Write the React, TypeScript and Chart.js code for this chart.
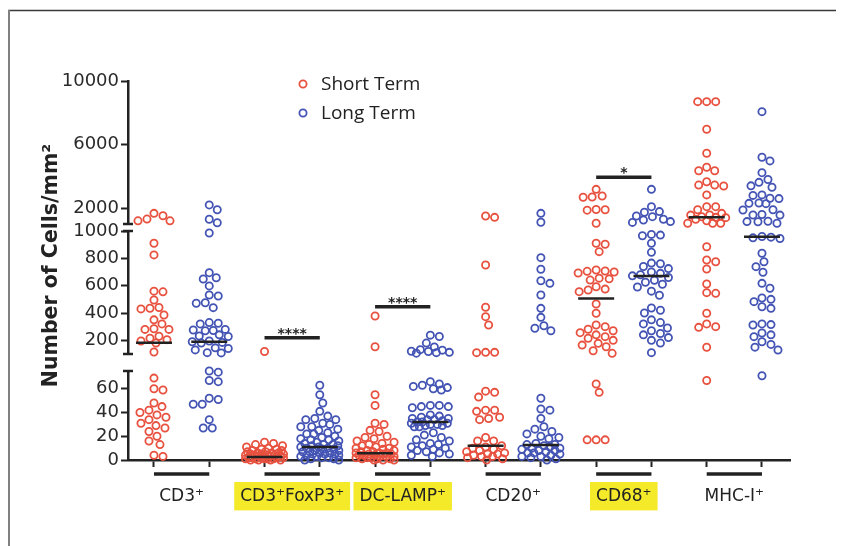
import React, { useEffect, useRef } from 'react';
import { Chart, registerables } from 'chart.js';

Chart.register(...registerables);

// ---- data ----
const groupLabels = ['CD3⁺', 'CD3⁺FoxP3⁺', 'DC-LAMP⁺', 'CD20⁺', 'CD68⁺', 'MHC-I⁺'];
const highlightedGroups = [false, true, true, false, true, false];
const seriesNames = ['Short Term', 'Long Term'];

const shortCD3 = [1670, 1520, 1310, 1200, 1200, 910, 825, 560, 555, 495, 440, 435, 430, 385, 350, 320, 285, 280, 280, 230, 215, 205, 195, 180, 115, 69, 60, 59, 48, 45, 42, 40, 38, 36, 34, 31, 29, 27, 24, 20, 16, 13, 4, 3];
const longCD3 = [2200, 1900, 1300, 1080, 985, 695, 658, 649, 598, 532, 524, 475, 471, 439, 330, 325, 320, 280, 276, 272, 270, 240, 232, 228, 195, 190, 185, 180, 145, 140, 130, 110, 108, 75, 74, 67, 66, 52, 51, 47, 47, 34, 27, 27];
const shortFoxP3 = [118, 15, 14, 13, 12, 11, 10, 9, 9, 8, 8, 7, 7, 6, 6, 6, 5, 5, 5, 4, 4, 4, 4, 3, 3, 3, 3, 2, 2, 2, 2, 2, 1, 1, 1, 1, 1, 0, 0, 0, 0];
const longFoxP3 = [63, 55, 48, 41, 37, 35, 34, 34, 31, 30, 28, 28, 26, 25, 23, 22, 22, 20, 19, 18, 17, 17, 16, 15, 14, 13, 13, 12, 12, 11, 11, 10, 10, 9, 9, 8, 8, 7, 7, 6, 6, 5, 5, 5, 4, 4, 3, 3, 2, 2, 1, 1, 0, 0];
const shortDCLAMP = [378, 153, 55, 46, 31, 30, 25, 24, 20, 19, 18, 16, 15, 14, 13, 12, 11, 10, 10, 9, 8, 8, 7, 7, 6, 6, 6, 5, 5, 5, 4, 4, 4, 3, 3, 3, 2, 2, 2, 1, 1, 1, 0, 0, 0];
const longDCLAMP = [238, 228, 180, 152, 132, 128, 120, 118, 112, 110, 106, 66, 64, 63, 62, 61, 60, 59, 46, 46, 45, 45, 44, 38, 37, 36, 35, 35, 34, 34, 33, 32, 32, 31, 31, 30, 30, 29, 29, 28, 28, 23, 21, 19, 17, 16, 14, 13, 12, 11, 10, 9, 8, 7, 6, 5, 4, 3];
const shortCD20 = [1500, 1420, 751, 442, 373, 312, 112, 112, 110, 58, 57, 53, 42, 42, 41, 36, 35, 34, 19, 16, 16, 12, 11, 10, 9, 8, 7, 6, 5, 5, 4, 3, 3, 2, 1, 0];
const longCD20 = [1670, 1110, 805, 720, 636, 617, 532, 434, 368, 307, 288, 270, 52, 43, 42, 35, 28, 26, 24, 22, 20, 19, 18, 14, 13, 13, 12, 11, 10, 10, 9, 8, 8, 7, 6, 6, 5, 4, 3, 3, 2, 1, 0];
const shortCD68 = [3180, 2760, 2700, 2680, 1910, 1900, 1870, 1050, 910, 903, 849, 715, 707, 705, 700, 693, 655, 650, 641, 592, 575, 568, 556, 466, 398, 312, 300, 281, 270, 256, 240, 227, 215, 200, 178, 165, 153, 124, 105, 64, 57, 17, 17, 17];
const longCD68 = [3180, 2090, 1780, 1740, 1500, 1460, 1300, 1250, 1150, 1100, 975, 970, 965, 910, 844, 765, 760, 740, 725, 700, 690, 680, 672, 660, 640, 625, 610, 590, 560, 530, 437, 420, 400, 350, 330, 320, 290, 270, 250, 240, 220, 200, 180, 110];
const shortMHC = [8700, 8700, 8700, 6960, 5450, 4570, 4350, 4350, 3660, 3450, 3450, 3390, 2830, 2090, 2090, 1900, 1670, 1570, 1560, 1460, 1420, 1400, 1300, 1200, 1050, 1040, 1040, 885, 788, 775, 722, 612, 549, 544, 398, 320, 300, 295, 149, 67];
const longMHC = [8070, 5200, 4970, 4230, 3800, 3620, 3400, 3310, 2830, 2800, 2620, 2600, 2320, 2300, 2280, 1900, 1880, 1600, 1570, 1560, 1170, 1150, 1140, 1050, 960, 955, 950, 945, 837, 775, 739, 698, 617, 581, 510, 500, 483, 446, 434, 320, 315, 312, 254, 240, 227, 190, 170, 150, 129, 71];

const shortSeries = [shortCD3, shortFoxP3, shortDCLAMP, shortCD20, shortCD68, shortMHC];
const longSeries = [longCD3, longFoxP3, longDCLAMP, longCD20, longCD68, longMHC];

const medianShort = [183, 2.5, 5.6, 12, 507, 1420];
const medianLong = [190, 11, 32, 12.6, 671, 958];

// significance brackets: group index, level, stars
const sigGroups = [1, 2, 4];
const sigLevels = [219, 446, 3950];
const sigStars = ['****', '****', '*'];

const yTopTicks = [10000, 6000, 2000];
const yMidTicks = [1000, 800, 600, 400, 200];
const yBotTicks = [60, 40, 20, 0];

// ---- styling ----
const COLORS = ['#e8513f', '#4454b4'];
const INK = '#222222';
const SEGMENTS = ['yTop', 'yMid', 'yBot'];
const AXIS_FONT = 'DejaVu Sans';

const segmentOf = (v: number) => (v >= 1000 ? 'yTop' : v >= 90 ? 'yMid' : 'yBot');

// beeswarm: place each point as close to the column centre as possible without overlap
function swarm(ys: number[], spacing: number, maxHalf: number): number[] {
  const order = ys.map((_, i) => i).sort((a, b) => ys[a] - ys[b]);
  const placed: { x: number; y: number }[] = [];
  const out = new Array(ys.length).fill(0);
  for (const i of order) {
    const y = ys[i];
    let best = 0;
    let bestScore = -Infinity;
    for (let step = 0; ; step++) {
      const dx = step === 0 ? 0 : (step % 2 ? 1 : -1) * Math.ceil(step / 2);
      if (Math.abs(dx) > maxHalf) break;
      let minD = Infinity;
      for (const p of placed) {
        const d = Math.hypot(p.x - dx, p.y - y);
        if (d < minD) minD = d;
      }
      if (minD >= spacing) {
        best = dx;
        break;
      }
      if (minD > bestScore + 0.01) {
        bestScore = minD;
        best = dx;
      }
    }
    placed.push({ x: best, y });
    out[i] = best;
  }
  return out;
}

function buildDatasets(offsets: number[][]) {
  const ds: any[] = [];
  [shortSeries, longSeries].forEach((series, s) => {
    SEGMENTS.forEach((seg) => {
      const data: { x: number; y: number }[] = [];
      series.forEach((vals, g) => {
        const col = g * 2 + s;
        vals.forEach((v, i) => {
          if (segmentOf(v) === seg) data.push({ x: col + ((offsets[col] && offsets[col][i]) || 0), y: v });
        });
      });
      ds.push({
        label: seriesNames[s],
        data,
        yAxisID: seg,
        pointStyle: 'circle',
        pointRadius: 3.6,
        pointHoverRadius: 3.6,
        pointBorderWidth: 1.8,
        pointBorderColor: COLORS[s],
        pointBackgroundColor: 'rgba(0,0,0,0)',
        borderColor: COLORS[s],
        clip: false,
        order: 2,
      });
    });
  });
  SEGMENTS.forEach((seg) => {
    const data: { x: number; y: number }[] = [];
    [medianShort, medianLong].forEach((arr, s) =>
      arr.forEach((m, g) => {
        if (segmentOf(m) === seg) data.push({ x: g * 2 + s, y: m });
      })
    );
    if (data.length)
      ds.push({
        label: 'median',
        data,
        yAxisID: seg,
        pointStyle: 'line',
        pointRadius: 18,
        pointHoverRadius: 18,
        pointBorderWidth: 2.5,
        pointBorderColor: INK,
        borderColor: INK,
        clip: false,
        order: 0,
      });
  });
  sigGroups.forEach((g, k) =>
    ds.push({
      label: 'significance',
      data: [
        { x: g * 2, y: sigLevels[k] },
        { x: g * 2 + 1, y: sigLevels[k] },
      ],
      yAxisID: segmentOf(sigLevels[k]),
      showLine: true,
      pointRadius: 0,
      borderColor: INK,
      borderWidth: 3.5,
      clip: false,
      order: 0,
    })
  );
  return ds;
}

const yScale = (weight: number, stackWeight: number, min: number, max: number, ticks: number[]) => ({
  type: 'linear',
  position: 'left',
  stack: 'cells',
  stackWeight,
  weight,
  min,
  max,
  afterBuildTicks: (s: any) => {
    s.ticks = ticks.map((value) => ({ value }));
  },
  afterFit: (s: any) => {
    s.width = 120;
  },
  grid: { drawOnChartArea: false, drawTicks: true, tickLength: 7, tickWidth: 2, tickColor: INK },
  border: { display: true, color: INK, width: 2.5 },
  ticks: {
    padding: 2,
    autoSkip: false,
    color: '#2a2a2a',
    font: { family: AXIS_FONT, size: 18 },
    callback: (v: any) => String(v),
  },
});

const gapScale = (weight: number, stackWeight: number) => ({
  type: 'linear',
  position: 'left',
  stack: 'cells',
  stackWeight,
  weight,
  min: 0,
  max: 1,
  display: false,
});

const decorations = {
  id: 'decorations',
  beforeDraw(chart: any) {
    const { ctx } = chart;
    ctx.save();
    ctx.fillStyle = '#ffffff';
    ctx.fillRect(0, 0, chart.width, chart.height);
    // frame
    ctx.strokeStyle = '#3a3a3a';
    ctx.lineWidth = 1.5;
    ctx.beginPath();
    ctx.moveTo(8, 10.5);
    ctx.lineTo(836, 10.5);
    ctx.stroke();
    ctx.strokeStyle = '#808080';
    ctx.lineWidth = 2;
    ctx.beginPath();
    ctx.moveTo(9, 10);
    ctx.lineTo(9, 546);
    ctx.stroke();
    ctx.restore();
  },
  afterDraw(chart: any) {
    const { ctx, chartArea, scales } = chart;
    const axisX = chartArea.left;
    ctx.save();
    ctx.strokeStyle = INK;
    ctx.fillStyle = INK;

    // axis break caps
    ctx.lineWidth = 2.5;
    [scales.yTop.bottom, scales.yMid.top, scales.yMid.bottom, scales.yBot.top].forEach((y: number) => {
      ctx.beginPath();
      ctx.moveTo(axisX - 5, y);
      ctx.lineTo(axisX + 5, y);
      ctx.stroke();
    });

    // group underline bars
    ctx.lineWidth = 3.5;
    const barY = chartArea.bottom + 14;
    groupLabels.forEach((_, g) => {
      ctx.beginPath();
      ctx.moveTo(scales.x.getPixelForValue(g * 2), barY);
      ctx.lineTo(scales.x.getPixelForValue(g * 2 + 1), barY);
      ctx.stroke();
    });

    // significance stars
    ctx.font = `bold 14px "${AXIS_FONT}"`;
    ctx.textAlign = 'center';
    ctx.textBaseline = 'alphabetic';
    sigGroups.forEach((g, k) => {
      const sc = scales[segmentOf(sigLevels[k])];
      const y = sc.getPixelForValue(sigLevels[k]);
      const x = scales.x.getPixelForValue(g * 2 + 0.5);
      ctx.fillText(sigStars[k], x, y);
    });

    // y axis title
    ctx.save();
    ctx.translate(57, 265.5);
    ctx.rotate(-Math.PI / 2);
    ctx.font = `bold 20.5px "${AXIS_FONT}"`;
    ctx.textAlign = 'center';
    ctx.textBaseline = 'alphabetic';
    ctx.fillText('Number of Cells/mm²', 0, 0);
    ctx.restore();

    // legend
    const legendY = [84, 113];
    ctx.font = '19px "Open Sans"';
    ctx.textAlign = 'left';
    ctx.textBaseline = 'middle';
    seriesNames.forEach((name, s) => {
      ctx.strokeStyle = COLORS[s];
      ctx.lineWidth = 1.8;
      ctx.beginPath();
      ctx.arc(303, legendY[s], 3.6, 0, Math.PI * 2);
      ctx.stroke();
      ctx.fillStyle = INK;
      ctx.fillText(name, 321, legendY[s] + 1);
    });
    ctx.restore();
  },
};

export default function App() {
  const canvasRef = useRef<HTMLCanvasElement | null>(null);

  useEffect(() => {
    const canvas = canvasRef.current;
    if (!canvas) return;
    const columnTicks = Array.from({ length: 12 }, (_, i) => i);
    const chart = new Chart(canvas, {
      type: 'scatter',
      data: { datasets: buildDatasets([]) },
      options: {
        responsive: false,
        animation: false,
        events: [],
        layout: { padding: { left: 8, top: 81, right: 51, bottom: 18 }, autoPadding: false },
        plugins: { legend: { display: false }, tooltip: { enabled: false } },
        scales: {
          x: {
            type: 'linear',
            position: 'bottom',
            weight: 0,
            min: -0.47,
            max: 11.507,
            afterBuildTicks: (s: any) => {
              s.ticks = columnTicks.map((value) => ({ value }));
            },
            afterFit: (s: any) => {
              s.height = 10;
            },
            grid: { drawOnChartArea: false, drawTicks: true, tickLength: 7, tickWidth: 2, tickColor: INK },
            border: { display: true, color: INK, width: 2.5 },
            ticks: { display: false, autoSkip: false },
          },
          xg: {
            type: 'linear',
            position: 'bottom',
            weight: 1,
            min: -0.47,
            max: 11.507,
            afterBuildTicks: (s: any) => {
              s.ticks = groupLabels.map((_, g) => ({ value: g * 2 + 0.5 }));
            },
            afterFit: (s: any) => {
              s.height = 58;
            },
            grid: { display: false, drawTicks: false },
            border: { display: false },
            ticks: {
              padding: 16,
              color: INK,
              font: { family: AXIS_FONT, size: 17 },
              maxRotation: 0,
              autoSkip: false,
              callback: (_v: any, i: number) => groupLabels[i],
              showLabelBackdrop: true,
              backdropPadding: { x: 6, y: 4 },
              backdropColor: (ctx: any) => (highlightedGroups[ctx.index] ? '#f4ea2a' : 'rgba(0,0,0,0)'),
            },
          },
          yTop: yScale(5, 143, 1000, 10000, yTopTicks),
          gapUpper: gapScale(4, 7),
          yMid: yScale(3, 123, 100, 1000, yMidTicks),
          gapLower: gapScale(2, 17),
          yBot: yScale(1, 89, 0, 75, yBotTicks),
        } as any,
      },
      plugins: [decorations],
    } as any);

    // lay the dots out as a swarm around each column, using the scales' pixel positions
    const xs: any = chart.scales.x;
    const unit = xs.getPixelForValue(1) - xs.getPixelForValue(0);
    const offsets: number[][] = [];
    [shortSeries, longSeries].forEach((series, s) =>
      series.forEach((vals, g) => {
        const ys = vals.map((v) => (chart.scales as any)[segmentOf(v)].getPixelForValue(v));
        offsets[g * 2 + s] = swarm(ys, 8.6, 19).map((px) => px / unit);
      })
    );
    chart.data.datasets = buildDatasets(offsets) as any;
    chart.update();

    return () => chart.destroy();
  }, []);

  return (
    <div style={{ position: 'fixed', left: 0, top: 0, width: 841, height: 546, background: '#fff' }}>
      <canvas ref={canvasRef} width={841} height={546} style={{ display: 'block' }} />
    </div>
  );
}
